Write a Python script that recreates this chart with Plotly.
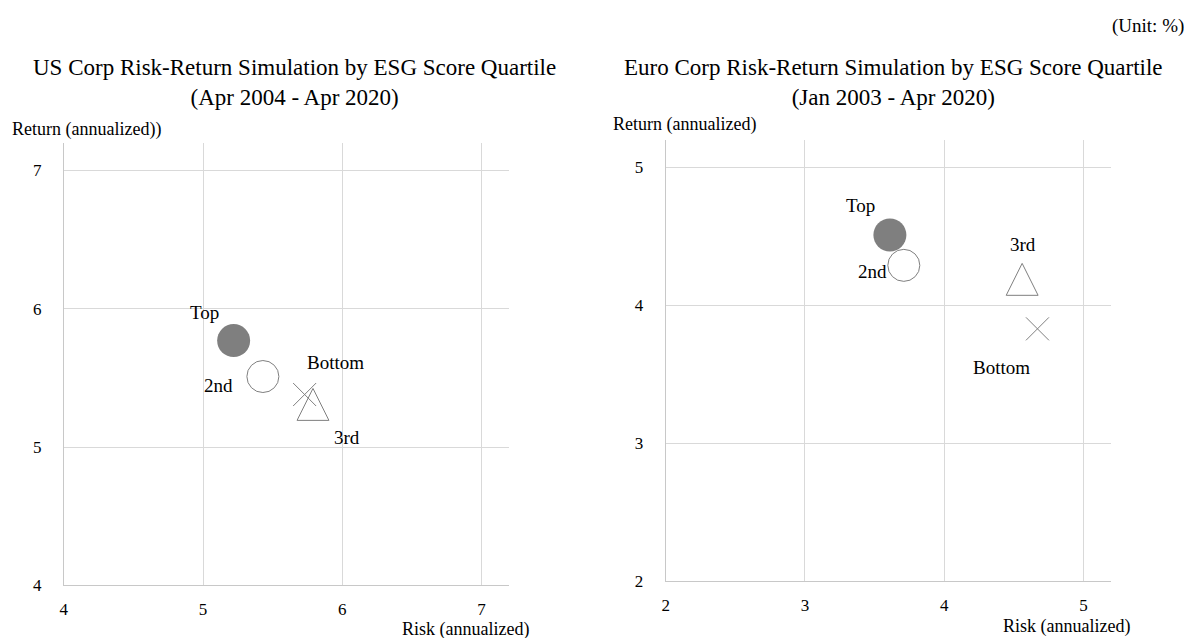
import plotly.graph_objects as go

W, H = 1184, 638
FONT = "Liberation Serif"

# ---- data ----
quartiles = ["Top", "2nd", "3rd", "Bottom"]
us_risk = [5.22, 5.43, 5.79, 5.73]
us_return = [5.77, 5.51, 5.27, 5.38]
eu_risk = [3.61, 3.71, 4.56, 4.67]
eu_return = [4.51, 4.29, 4.15, 3.83]

us_ticks = [4, 5, 6, 7]
eu_ticks = [2, 3, 4, 5]
us_range = [4, 7.2]
eu_range = [2, 5.2]

us_title = "US Corp Risk-Return Simulation by ESG Score Quartile<br>(Apr 2004 - Apr 2020)"
eu_title = "Euro Corp Risk-Return Simulation by ESG Score Quartile<br>(Jan 2003 - Apr 2020)"

# label offsets in pixels (dx, dy) relative to each point
us_label_off = [(-29, 28), (-44, -9), (34, -28), (31, 32)]
eu_label_off = [(-29, 29), (-31, -6), (1, 40), (-36, -39)]

GRAY = "#7f7f7f"
TRI_W, TRI_H = 32, 32  # triangle marker size in px

VS = 0.986  # empirical vertical correction


def py(p):
    return (H - (p + 0.7) / VS) / H


def px(p):
    return p / W


# plot areas in pixels (left, right, bottom, top)
us_box = (60.0, 507.0, 585.7, 142.3)
eu_box = (664.0, 1111.0, 581.7, 139.3)

fig = go.Figure()


def add_panel(risk, ret, box, rng, xa, ya):
    kx = (box[1] - box[0]) / (rng[1] - rng[0])
    ky = (box[2] - box[3]) / (rng[1] - rng[0])
    # Top: filled circle
    fig.add_trace(go.Scatter(x=[risk[0]], y=[ret[0]], mode="markers", name=quartiles[0],
                             marker=dict(symbol="circle", size=33, color=GRAY, line=dict(width=0)),
                             showlegend=False, xaxis=xa, yaxis=ya))
    # 2nd: open circle
    fig.add_trace(go.Scatter(x=[risk[1]], y=[ret[1]], mode="markers", name=quartiles[1],
                             marker=dict(symbol="circle", size=32, color="white",
                                         line=dict(width=1, color=GRAY)),
                             showlegend=False, xaxis=xa, yaxis=ya))
    # 3rd: open triangle (outline around the data point, centroid at the point)
    x0, y0 = risk[2], ret[2]
    dx = TRI_W / 2 / kx
    up = TRI_H * 2 / 3 / ky
    dn = TRI_H / 3 / ky
    fig.add_trace(go.Scatter(x=[x0 - dx, x0 + dx, x0, x0 - dx],
                             y=[y0 - dn, y0 - dn, y0 + up, y0 - dn],
                             mode="lines", name=quartiles[2],
                             line=dict(color=GRAY, width=1), fill="toself", fillcolor="white",
                             showlegend=False, xaxis=xa, yaxis=ya))
    # Bottom: x mark
    fig.add_trace(go.Scatter(x=[risk[3]], y=[ret[3]], mode="markers", name=quartiles[3],
                             marker=dict(symbol="x-thin-open", size=23, color=GRAY,
                                         line=dict(width=1, color=GRAY)),
                             showlegend=False, xaxis=xa, yaxis=ya))


add_panel(us_risk, us_return, us_box, us_range, "x", "y")
add_panel(eu_risk, eu_return, eu_box, eu_range, "x2", "y2")

annotations = []
for i, q in enumerate(quartiles):
    dx, dy = us_label_off[i]
    annotations.append(dict(x=us_risk[i], y=us_return[i], xref="x", yref="y", text=q,
                            showarrow=False, xshift=dx, yshift=dy,
                            font=dict(family=FONT, size=19, color="black")))
    dx, dy = eu_label_off[i]
    annotations.append(dict(x=eu_risk[i], y=eu_return[i], xref="x2", yref="y2", text=q,
                            showarrow=False, xshift=dx, yshift=dy,
                            font=dict(family=FONT, size=19, color="black")))

annotations += [
    dict(x=px(291), y=py(82), xref="paper", yref="paper", text=us_title, showarrow=False,
         xanchor="center", yanchor="middle", font=dict(family=FONT, size=23, color="black")),
    dict(x=px(893), y=py(82), xref="paper", yref="paper", text=eu_title, showarrow=False,
         xanchor="center", yanchor="middle", font=dict(family=FONT, size=23, color="black")),
    dict(x=px(1186), y=py(25), xref="paper", yref="paper", text="(Unit: %)", showarrow=False,
         xanchor="right", yanchor="middle", font=dict(family=FONT, size=19, color="black")),
    dict(x=px(6), y=py(129), xref="paper", yref="paper", text="Return (annualized))", showarrow=False,
         xanchor="left", yanchor="middle", font=dict(family=FONT, size=18, color="black")),
    dict(x=px(609), y=py(124), xref="paper", yref="paper", text="Return (annualized)", showarrow=False,
         xanchor="left", yanchor="middle", font=dict(family=FONT, size=18, color="black")),
    dict(x=px(529), y=py(630), xref="paper", yref="paper", text="Risk (annualized)", showarrow=False,
         xanchor="right", yanchor="middle", font=dict(family=FONT, size=18, color="black")),
    dict(x=px(1132), y=py(627), xref="paper", yref="paper", text="Risk (annualized)", showarrow=False,
         xanchor="right", yanchor="middle", font=dict(family=FONT, size=18, color="black")),
]

axis_common = dict(showgrid=True, gridcolor="#d9d9d9", gridwidth=1, zeroline=False,
                   showline=True, linecolor="#c8c8c8", linewidth=1, ticks="",
                   tickfont=dict(family=FONT, size=17, color="black"), fixedrange=True)

fig.update_layout(
    width=W, height=H,
    margin=dict(l=0, r=0, t=0, b=0),
    paper_bgcolor="white", plot_bgcolor="white",
    xaxis=dict(domain=[px(us_box[0]), px(us_box[1])], range=us_range, tickvals=us_ticks,
               anchor="y", ticklabelstandoff=8, **axis_common),
    yaxis=dict(domain=[py(us_box[2]), py(us_box[3])], range=us_range, tickvals=us_ticks,
               anchor="x", ticklabelstandoff=18, **axis_common),
    xaxis2=dict(domain=[px(eu_box[0]), px(eu_box[1])], range=eu_range, tickvals=eu_ticks,
                anchor="y2", ticklabelstandoff=8, **axis_common),
    yaxis2=dict(domain=[py(eu_box[2]), py(eu_box[3])], range=eu_range, tickvals=eu_ticks,
                anchor="x2", ticklabelstandoff=18, **axis_common),
    annotations=annotations,
)

fig.write_html("out.html", config={"displayModeBar": False},
               post_script="document.body.style.margin='0';document.body.style.overflow='hidden';")
